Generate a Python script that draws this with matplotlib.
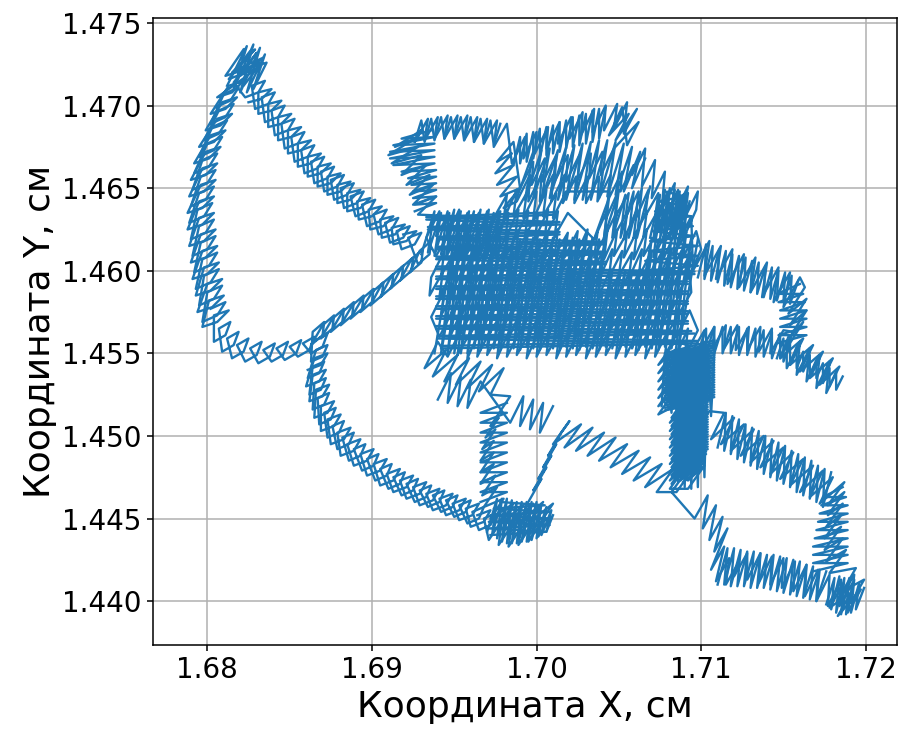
import matplotlib
matplotlib.use('Agg')
import matplotlib.pyplot as plt
from matplotlib.ticker import FormatStrFormatter, MultipleLocator

# trajectory, band by band (x, y in cm)
top_cluster = [(1.6816,1.4714),(1.6830,1.4732),(1.6820,1.4718),(1.6834,1.4729),(1.6818,1.4722),(1.6829,1.4734),
               (1.6815,1.4720),(1.6833,1.4726),(1.6822,1.4712),(1.6826,1.4733),(1.6813,1.4716),(1.6831,1.4723)]
left_side = [(1.6806,1.4705),(1.6815,1.4708),(1.6822,1.4715),(1.6813,1.4712),(1.6802,1.4695),(1.6811,1.4698),
             (1.6818,1.4705),(1.6809,1.4702),(1.6799,1.4685),(1.6808,1.4688),(1.6815,1.4695),(1.6806,1.4692),
             (1.6795,1.4675),(1.6804,1.4678),(1.6811,1.4685),(1.6802,1.4682),(1.6792,1.4665),(1.6801,1.4668),
             (1.6808,1.4675),(1.6799,1.4672),(1.6790,1.4655),(1.6799,1.4658),(1.6806,1.4665),(1.6797,1.4662),
             (1.6789,1.4645),(1.6798,1.4648),(1.6805,1.4655),(1.6796,1.4652),(1.6788,1.4635),(1.6797,1.4638),
             (1.6804,1.4645),(1.6795,1.4642),(1.6788,1.4625),(1.6797,1.4628),(1.6804,1.4635),(1.6795,1.4632),
             (1.6789,1.4615),(1.6798,1.4618),(1.6805,1.4625),(1.6796,1.4622),(1.6790,1.4605),(1.6799,1.4608),
             (1.6806,1.4615),(1.6797,1.4612),(1.6791,1.4595),(1.6800,1.4598),(1.6807,1.4605),(1.6798,1.4602),
             (1.6793,1.4585),(1.6802,1.4588),(1.6809,1.4595),(1.6800,1.4592),(1.6794,1.4575),(1.6803,1.4578),
             (1.6810,1.4585),(1.6801,1.4582),(1.6797,1.4566),(1.6806,1.4569),(1.6813,1.4576),(1.6804,1.4573),
             (1.6804,1.4557),(1.6811,1.4561),(1.6814,1.4569),(1.6807,1.4565),(1.6809,1.4551),(1.6816,1.4555),
             (1.6819,1.4563),(1.6812,1.4559),(1.6815,1.4547),(1.6822,1.4551),(1.6825,1.4559),(1.6818,1.4555),
             (1.6823,1.4545),(1.6830,1.4549),(1.6833,1.4557),(1.6826,1.4553),(1.6831,1.4544),(1.6838,1.4548),
             (1.6841,1.4556),(1.6834,1.4552),(1.6839,1.4545),(1.6846,1.4549),(1.6849,1.4557),(1.6842,1.4553),
             (1.6847,1.4546),(1.6854,1.4550),(1.6857,1.4558),(1.6850,1.4554),(1.6855,1.4548),(1.6862,1.4552),
             (1.6865,1.4560),(1.6858,1.4556),(1.6863,1.4550),(1.6870,1.4554),(1.6873,1.4562),(1.6866,1.4558)]
diagonal = [(1.6823,1.4705),(1.6831,1.4708),(1.6835,1.4715),(1.6827,1.4712),(1.6829,1.4698),(1.6837,1.4701),
            (1.6841,1.4708),(1.6833,1.4705),(1.6835,1.4690),(1.6843,1.4693),(1.6847,1.4700),(1.6839,1.4697),
            (1.6841,1.4682),(1.6849,1.4685),(1.6853,1.4692),(1.6845,1.4689),(1.6847,1.4674),(1.6855,1.4677),
            (1.6859,1.4684),(1.6851,1.4681),(1.6853,1.4666),(1.6861,1.4669),(1.6865,1.4676),(1.6857,1.4673),
            (1.6859,1.4659),(1.6867,1.4662),(1.6871,1.4669),(1.6863,1.4666),(1.6865,1.4653),(1.6873,1.4656),
            (1.6877,1.4663),(1.6869,1.4660),(1.6871,1.4648),(1.6879,1.4651),(1.6883,1.4658),(1.6875,1.4655),
            (1.6877,1.4643),(1.6885,1.4646),(1.6889,1.4653),(1.6881,1.4650),(1.6883,1.4638),(1.6891,1.4641),
            (1.6895,1.4648),(1.6887,1.4645),(1.6890,1.4633),(1.6898,1.4636),(1.6902,1.4643),(1.6894,1.4640),
            (1.6897,1.4627),(1.6905,1.4630),(1.6909,1.4637),(1.6901,1.4634),(1.6904,1.4622),(1.6912,1.4625),
            (1.6916,1.4632),(1.6908,1.4629),(1.6911,1.4617),(1.6919,1.4620),(1.6923,1.4627),(1.6915,1.4624),
            (1.6918,1.4613),(1.6926,1.4616),(1.6930,1.4623),(1.6922,1.4620)]
lower_band = [(1.6928,1.4604),(1.6935,1.4610),(1.6936,1.4618),(1.6929,1.4612),(1.6923,1.4599),(1.6930,1.4605),
              (1.6931,1.4613),(1.6924,1.4607),(1.6917,1.4594),(1.6924,1.4600),(1.6925,1.4608),(1.6918,1.4602),
              (1.6911,1.4589),(1.6918,1.4595),(1.6919,1.4603),(1.6912,1.4597),(1.6905,1.4584),(1.6912,1.4590),
              (1.6913,1.4598),(1.6906,1.4592),(1.6899,1.4579),(1.6906,1.4585),(1.6907,1.4593),(1.6900,1.4587),
              (1.6893,1.4575),(1.6900,1.4581),(1.6901,1.4589),(1.6894,1.4583),(1.6887,1.4571),(1.6894,1.4577),
              (1.6895,1.4585),(1.6888,1.4579),(1.6881,1.4567),(1.6888,1.4573),(1.6889,1.4581),(1.6882,1.4575),
              (1.6875,1.4563),(1.6882,1.4569),(1.6883,1.4577),(1.6876,1.4571),(1.6869,1.4559),(1.6876,1.4565),
              (1.6877,1.4573),(1.6870,1.4567),(1.6863,1.4555),(1.6870,1.4561),(1.6871,1.4569),(1.6864,1.4563)]
second_loop = [(1.6863,1.4545),(1.6870,1.4548),(1.6873,1.4555),(1.6866,1.4552),(1.6861,1.4535),(1.6868,1.4538),
               (1.6871,1.4545),(1.6864,1.4542),(1.6862,1.4525),(1.6869,1.4528),(1.6872,1.4535),(1.6865,1.4532),
               (1.6864,1.4516),(1.6871,1.4519),(1.6874,1.4526),(1.6867,1.4523),(1.6868,1.4507),(1.6875,1.4510),
               (1.6878,1.4517),(1.6871,1.4514),(1.6873,1.4499),(1.6880,1.4502),(1.6883,1.4509),(1.6876,1.4506),
               (1.6879,1.4492),(1.6886,1.4495),(1.6889,1.4502),(1.6882,1.4499),(1.6886,1.4485),(1.6893,1.4488),
               (1.6896,1.4495),(1.6889,1.4492),(1.6894,1.4479),(1.6901,1.4482),(1.6904,1.4489),(1.6897,1.4486),
               (1.6902,1.4473),(1.6909,1.4476),(1.6912,1.4483),(1.6905,1.4480),(1.6910,1.4468),(1.6917,1.4471),
               (1.6920,1.4478),(1.6913,1.4475),(1.6918,1.4464),(1.6925,1.4467),(1.6928,1.4474),(1.6921,1.4471),
               (1.6926,1.4460),(1.6933,1.4463),(1.6936,1.4470),(1.6929,1.4467),(1.6934,1.4457),(1.6941,1.4460),
               (1.6944,1.4467),(1.6937,1.4464),(1.6942,1.4454),(1.6949,1.4457),(1.6952,1.4464),(1.6945,1.4461),
               (1.6950,1.4451),(1.6957,1.4454),(1.6960,1.4461),(1.6953,1.4458),(1.6958,1.4447),(1.6965,1.4450),
               (1.6968,1.4457),(1.6961,1.4454),(1.6965,1.4443),(1.6972,1.4446),(1.6975,1.4453),(1.6968,1.4450)]
bottom_blob = [(1.6971,1.4437),(1.6979,1.4449),(1.6977,1.4434),(1.6985,1.4446),(1.6983,1.4433),(1.6991,1.4445),
               (1.6989,1.4434),(1.6997,1.4446),(1.6995,1.4436),(1.7003,1.4448),(1.7001,1.4439),(1.7009,1.4451),
               (1.7002,1.4447),(1.7010,1.4459),(1.6996,1.4448),(1.7004,1.4460),(1.6990,1.4447),(1.6998,1.4459),
               (1.6984,1.4446),(1.6992,1.4458),(1.6978,1.4447),(1.6986,1.4459),(1.6972,1.4450),(1.6980,1.4462)]
upright = [(1.6968,1.4457),(1.6976,1.4469),(1.6967,1.4464),(1.6975,1.4476),(1.6966,1.4471),(1.6974,1.4483),
           (1.6966,1.4478),(1.6974,1.4490),(1.6966,1.4485),(1.6974,1.4497),(1.6967,1.4492),(1.6975,1.4504),
           (1.6969,1.4499),(1.6977,1.4511),(1.6972,1.4506),(1.6980,1.4518),(1.6976,1.4512),(1.6984,1.4524)]
below_core = [(1.6972,1.4525),(1.6980,1.4541),(1.6965,1.4527),(1.6973,1.4543),(1.6958,1.4529),(1.6966,1.4545),
              (1.6951,1.4531),(1.6959,1.4547),(1.6944,1.4533),(1.6952,1.4549),(1.6937,1.4536),(1.6945,1.4552),
              (1.6932,1.4541),(1.6940,1.4557)]

# dense core, swept in rows from the bottom up
core_1 = [(1.6946,1.4548),(1.6954,1.4564),(1.6952,1.4549),(1.6960,1.4563),(1.6958,1.4547),(1.6966,1.4565),
          (1.6964,1.4548),(1.6972,1.4564),(1.6970,1.4549),(1.6978,1.4563),(1.6976,1.4547),(1.6984,1.4565),
          (1.6982,1.4548),(1.6990,1.4564),(1.6988,1.4549),(1.6996,1.4563),(1.6994,1.4547),(1.7002,1.4565),
          (1.7000,1.4548),(1.7008,1.4564),(1.7006,1.4549),(1.7014,1.4563),(1.7012,1.4547),(1.7020,1.4565),
          (1.7018,1.4548),(1.7026,1.4564),(1.7024,1.4549),(1.7032,1.4563),(1.7030,1.4547),(1.7038,1.4565),
          (1.7036,1.4548),(1.7044,1.4564),(1.7042,1.4549),(1.7050,1.4563),(1.7048,1.4547),(1.7056,1.4565),
          (1.7054,1.4548),(1.7062,1.4564),(1.7060,1.4549),(1.7068,1.4563),(1.7066,1.4547),(1.7074,1.4565),
          (1.7072,1.4548),(1.7080,1.4564),(1.7078,1.4549),(1.7086,1.4563),(1.7084,1.4547),(1.7092,1.4565),
          (1.7090,1.4548),(1.7098,1.4564)]
core_2 = [(1.7093,1.4576),(1.7085,1.4560),(1.7087,1.4575),(1.7079,1.4561),(1.7081,1.4577),(1.7073,1.4559),
          (1.7075,1.4576),(1.7067,1.4560),(1.7069,1.4575),(1.7061,1.4561),(1.7063,1.4577),(1.7055,1.4559),
          (1.7057,1.4576),(1.7049,1.4560),(1.7051,1.4575),(1.7043,1.4561),(1.7045,1.4577),(1.7037,1.4559),
          (1.7039,1.4576),(1.7031,1.4560),(1.7033,1.4575),(1.7025,1.4561),(1.7027,1.4577),(1.7019,1.4559),
          (1.7021,1.4576),(1.7013,1.4560),(1.7015,1.4575),(1.7007,1.4561),(1.7009,1.4577),(1.7001,1.4559),
          (1.7003,1.4576),(1.6995,1.4560),(1.6997,1.4575),(1.6989,1.4561),(1.6991,1.4577),(1.6983,1.4559),
          (1.6985,1.4576),(1.6977,1.4560),(1.6979,1.4575),(1.6971,1.4561),(1.6973,1.4577),(1.6965,1.4559),
          (1.6967,1.4576),(1.6959,1.4560),(1.6961,1.4575),(1.6953,1.4561),(1.6955,1.4577),(1.6947,1.4559),
          (1.6949,1.4576),(1.6941,1.4560)]
core_3 = [(1.6936,1.4572),(1.6944,1.4588),(1.6942,1.4573),(1.6950,1.4587),(1.6948,1.4571),(1.6956,1.4589),
          (1.6954,1.4572),(1.6962,1.4588),(1.6960,1.4573),(1.6968,1.4587),(1.6966,1.4571),(1.6974,1.4589),
          (1.6972,1.4572),(1.6980,1.4588),(1.6978,1.4573),(1.6986,1.4587),(1.6984,1.4571),(1.6992,1.4589),
          (1.6990,1.4572),(1.6998,1.4588),(1.6996,1.4573),(1.7004,1.4587),(1.7002,1.4571),(1.7010,1.4589),
          (1.7008,1.4572),(1.7016,1.4588),(1.7014,1.4573),(1.7022,1.4587),(1.7020,1.4571),(1.7028,1.4589),
          (1.7026,1.4572),(1.7034,1.4588),(1.7032,1.4573),(1.7040,1.4587),(1.7038,1.4571),(1.7046,1.4589),
          (1.7044,1.4572),(1.7052,1.4588),(1.7050,1.4573),(1.7058,1.4587),(1.7056,1.4571),(1.7064,1.4589),
          (1.7062,1.4572),(1.7070,1.4588),(1.7068,1.4573),(1.7076,1.4587),(1.7074,1.4571),(1.7082,1.4589),
          (1.7080,1.4572),(1.7088,1.4588),(1.7086,1.4573),(1.7094,1.4587)]
core_4 = [(1.7093,1.4600),(1.7085,1.4584),(1.7087,1.4599),(1.7079,1.4585),(1.7081,1.4601),(1.7073,1.4583),
          (1.7075,1.4600),(1.7067,1.4584),(1.7069,1.4599),(1.7061,1.4585),(1.7063,1.4601),(1.7055,1.4583),
          (1.7057,1.4600),(1.7049,1.4584),(1.7051,1.4599),(1.7043,1.4585),(1.7045,1.4601),(1.7037,1.4583),
          (1.7039,1.4600),(1.7031,1.4584),(1.7033,1.4599),(1.7025,1.4585),(1.7027,1.4601),(1.7019,1.4583),
          (1.7021,1.4600),(1.7013,1.4584),(1.7015,1.4599),(1.7007,1.4585),(1.7009,1.4601),(1.7001,1.4583),
          (1.7003,1.4600),(1.6995,1.4584),(1.6997,1.4599),(1.6989,1.4585),(1.6991,1.4601),(1.6983,1.4583),
          (1.6985,1.4600),(1.6977,1.4584),(1.6979,1.4599),(1.6971,1.4585),(1.6973,1.4601),(1.6965,1.4583),
          (1.6967,1.4600),(1.6959,1.4584),(1.6961,1.4599),(1.6953,1.4585),(1.6955,1.4601),(1.6947,1.4583),
          (1.6949,1.4600),(1.6941,1.4584),(1.6943,1.4599),(1.6935,1.4585)]
core_5 = [(1.6936,1.4596),(1.6944,1.4612),(1.6942,1.4597),(1.6950,1.4611),(1.6948,1.4595),(1.6956,1.4613),
          (1.6954,1.4596),(1.6962,1.4612),(1.6960,1.4597),(1.6968,1.4611),(1.6966,1.4595),(1.6974,1.4613),
          (1.6972,1.4596),(1.6980,1.4612),(1.6978,1.4597),(1.6986,1.4611),(1.6984,1.4595),(1.6992,1.4613),
          (1.6990,1.4596),(1.6998,1.4612),(1.6996,1.4597),(1.7004,1.4611),(1.7002,1.4595),(1.7010,1.4613),
          (1.7008,1.4596),(1.7016,1.4612),(1.7014,1.4597),(1.7022,1.4611),(1.7020,1.4595),(1.7028,1.4613),
          (1.7026,1.4596),(1.7034,1.4612),(1.7032,1.4597),(1.7040,1.4611),(1.7038,1.4595),(1.7046,1.4613),
          (1.7044,1.4596),(1.7052,1.4612),(1.7050,1.4597),(1.7058,1.4611),(1.7056,1.4595),(1.7064,1.4613),
          (1.7062,1.4596),(1.7070,1.4612),(1.7068,1.4597),(1.7076,1.4611),(1.7074,1.4595),(1.7082,1.4613),
          (1.7080,1.4596),(1.7088,1.4612),(1.7086,1.4597),(1.7094,1.4611),(1.7092,1.4595),(1.7100,1.4613)]
core_6 = [(1.7097,1.4624),(1.7089,1.4608),(1.7091,1.4623),(1.7083,1.4609),(1.7085,1.4625),(1.7077,1.4607),
          (1.7079,1.4624),(1.7071,1.4608),(1.7073,1.4623),(1.7065,1.4609),(1.7067,1.4625),(1.7059,1.4607),
          (1.7061,1.4624),(1.7053,1.4608),(1.7055,1.4623),(1.7047,1.4609),(1.7049,1.4625),(1.7041,1.4607),
          (1.7043,1.4624),(1.7035,1.4608),(1.7037,1.4623),(1.7029,1.4609),(1.7031,1.4625),(1.7023,1.4607),
          (1.7025,1.4624),(1.7017,1.4608),(1.7019,1.4623),(1.7011,1.4609),(1.7013,1.4625),(1.7005,1.4607),
          (1.7007,1.4624),(1.6999,1.4608),(1.7001,1.4623),(1.6993,1.4609),(1.6995,1.4625),(1.6987,1.4607),
          (1.6989,1.4624),(1.6981,1.4608),(1.6983,1.4623),(1.6975,1.4609),(1.6977,1.4625),(1.6969,1.4607),
          (1.6971,1.4624),(1.6963,1.4608),(1.6965,1.4623),(1.6957,1.4609),(1.6959,1.4625),(1.6951,1.4607),
          (1.6953,1.4624),(1.6945,1.4608),(1.6947,1.4623),(1.6939,1.4609)]
core_7 = [(1.6933,1.4620),(1.6941,1.4636),(1.6939,1.4621),(1.6947,1.4635),(1.6945,1.4619),(1.6953,1.4637),
          (1.6951,1.4620),(1.6959,1.4636),(1.6957,1.4621),(1.6965,1.4635),(1.6963,1.4619),(1.6971,1.4637),
          (1.6969,1.4620),(1.6977,1.4636),(1.6975,1.4621),(1.6983,1.4635),(1.6981,1.4619),(1.6989,1.4637),
          (1.6987,1.4620),(1.6995,1.4636),(1.6993,1.4621),(1.7001,1.4635),(1.6999,1.4619),(1.7007,1.4637),
          (1.7005,1.4620),(1.7013,1.4636),(1.7011,1.4621),(1.7019,1.4635),
          (1.7035,1.4619),(1.7043,1.4637),(1.7041,1.4620),(1.7049,1.4636),(1.7047,1.4621),(1.7055,1.4635),
          (1.7053,1.4619),(1.7061,1.4637),(1.7059,1.4620),(1.7067,1.4636),(1.7065,1.4621),(1.7073,1.4635),
          (1.7071,1.4619),(1.7079,1.4637),(1.7077,1.4620),(1.7085,1.4636),(1.7083,1.4621),(1.7091,1.4635),
          (1.7089,1.4619),(1.7097,1.4637)]
core_8 = [(1.7098,1.4648),(1.7090,1.4632),(1.7092,1.4647),(1.7084,1.4633),(1.7086,1.4649),(1.7078,1.4631),
          (1.7080,1.4648),(1.7072,1.4632),(1.7074,1.4647),(1.7066,1.4633),(1.7068,1.4649),(1.7060,1.4631),
          (1.7062,1.4648),(1.7054,1.4632),(1.7056,1.4647),(1.7048,1.4633),(1.7050,1.4649),(1.7042,1.4631),
          (1.7044,1.4648),
          (1.7018,1.4648),(1.7010,1.4632),(1.7012,1.4647),(1.7004,1.4633),(1.7006,1.4649),(1.6998,1.4631),
          (1.7000,1.4648),(1.6992,1.4632),(1.6994,1.4647),(1.6986,1.4633),(1.6988,1.4649),(1.6980,1.4631),
          (1.6982,1.4646),(1.6974,1.4632)]

# upper lobes of the core
ring_left = [(1.6928,1.4634),(1.6939,1.4645),(1.6925,1.4640),(1.6937,1.4652),(1.6923,1.4646),(1.6935,1.4658),
             (1.6921,1.4652),(1.6933,1.4664),(1.6918,1.4658),(1.6930,1.4670),(1.6912,1.4665),(1.6928,1.4675),
             (1.6910,1.4670),(1.6926,1.4680),(1.6914,1.4675),(1.6930,1.4685)]
ring_top = [(1.6926,1.4678),(1.6934,1.4692),(1.6932,1.4679),(1.6940,1.4693),(1.6938,1.4680),(1.6946,1.4694),
            (1.6944,1.4680),(1.6952,1.4694),(1.6950,1.4680),(1.6958,1.4694),(1.6956,1.4679),(1.6964,1.4693),
            (1.6962,1.4678),(1.6970,1.4692),(1.6968,1.4677),(1.6976,1.4691),(1.6974,1.4675),(1.6982,1.4689)]
top_band = [(1.6985,1.4665),(1.6993,1.4681),(1.6992,1.4668),(1.7000,1.4684),(1.6999,1.4671),(1.7007,1.4687),
            (1.7006,1.4674),(1.7014,1.4690),(1.7013,1.4677),(1.7021,1.4693),(1.7020,1.4680),(1.7028,1.4696),
            (1.7027,1.4682),(1.7035,1.4698),(1.7034,1.4684),(1.7042,1.4700)]
top_nub = [(1.7041,1.4685),(1.7049,1.4701),(1.7047,1.4686),(1.7055,1.4702),(1.7053,1.4683),(1.7061,1.4698),
           (1.7048,1.4679),(1.7056,1.4695),(1.7044,1.4682),(1.7052,1.4699),(1.7055,1.4676),(1.7062,1.4690)]
mesh_upper = [(1.7047,1.4674),(1.7039,1.4658),(1.7040,1.4672),(1.7032,1.4656),(1.7033,1.4671),(1.7025,1.4655),
              (1.7026,1.4670),(1.7018,1.4654),(1.7019,1.4670),(1.7011,1.4654),(1.7012,1.4670),(1.7004,1.4654),
              (1.7005,1.4668),(1.6997,1.4652),(1.6998,1.4666),(1.6990,1.4650)]
ring_right = [(1.6986,1.4678),(1.6976,1.4666),(1.6985,1.4671),(1.6975,1.4659),(1.6986,1.4664),(1.6976,1.4652),
              (1.6988,1.4657),(1.6978,1.4645),(1.6990,1.4650),(1.6980,1.4638)]
mesh_lower = [(1.6988,1.4642),(1.6996,1.4658),(1.6995,1.4642),(1.7003,1.4658),(1.7002,1.4642),(1.7010,1.4658),
              (1.7009,1.4642),(1.7017,1.4658),(1.7016,1.4641),(1.7024,1.4657),(1.7023,1.4641),(1.7031,1.4657),
              (1.7030,1.4641),(1.7038,1.4657),(1.7037,1.4642),(1.7045,1.4658),(1.7044,1.4644),(1.7052,1.4660),
              (1.7051,1.4648),(1.7059,1.4664)]
right_lobe = [(1.7058,1.4658),(1.7066,1.4674),(1.7064,1.4651),(1.7072,1.4667),(1.7070,1.4644),(1.7078,1.4660),
              (1.7076,1.4637),(1.7084,1.4653),(1.7081,1.4630),(1.7089,1.4646),(1.7085,1.4624),(1.7093,1.4640),
              (1.7079,1.4619),(1.7087,1.4635),(1.7073,1.4625),(1.7081,1.4641),(1.7078,1.4632),(1.7086,1.4648),
              (1.7084,1.4635),(1.7092,1.4651),(1.7086,1.4617),(1.7094,1.4633)]

# right ring and its tail
rring_top = [(1.7095,1.4600),(1.7105,1.4618),(1.7102,1.4597),(1.7112,1.4615),(1.7109,1.4595),(1.7119,1.4613),
             (1.7116,1.4592),(1.7126,1.4610),(1.7123,1.4590),(1.7133,1.4608),(1.7130,1.4587),(1.7140,1.4605),
             (1.7137,1.4584),(1.7147,1.4602),(1.7144,1.4581),(1.7154,1.4599),(1.7150,1.4578),(1.7160,1.4596)]
rring_side = [(1.7163,1.4590),(1.7153,1.4574),(1.7164,1.4583),(1.7154,1.4567),(1.7164,1.4576),(1.7154,1.4560),
              (1.7162,1.4569),(1.7152,1.4553)]
tail = [(1.7152,1.4541),(1.7160,1.4557),(1.7158,1.4537),(1.7166,1.4553),(1.7164,1.4533),(1.7172,1.4549),
        (1.7170,1.4529),(1.7178,1.4545),(1.7176,1.4526),(1.7184,1.4542),
        (1.7172,1.4531),(1.7180,1.4547),(1.7166,1.4535),(1.7174,1.4551),(1.7160,1.4539),(1.7168,1.4555),
        (1.7154,1.4543),(1.7162,1.4559),(1.7148,1.4547),(1.7156,1.4563)]
rring_bottom = [(1.7150,1.4564),(1.7142,1.4550),(1.7143,1.4565),(1.7135,1.4551),(1.7136,1.4566),(1.7128,1.4552),
                (1.7129,1.4566),(1.7121,1.4552),(1.7122,1.4567),(1.7114,1.4553),(1.7115,1.4567),(1.7107,1.4553),
                (1.7108,1.4566),(1.7100,1.4552),(1.7102,1.4564),(1.7094,1.4550)]

# vertical column under the core
column_1 = [(1.7102,1.4557),(1.7092,1.4543),(1.7102,1.4552),(1.7092,1.4538),(1.7102,1.4547),(1.7092,1.4533),
            (1.7102,1.4542),(1.7092,1.4528),(1.7102,1.4537),(1.7092,1.4523),(1.7102,1.4532),(1.7092,1.4518),
            (1.7102,1.4527),(1.7092,1.4513),(1.7102,1.4522),(1.7092,1.4508),(1.7102,1.4517),(1.7092,1.4503),
            (1.7102,1.4512),(1.7092,1.4498),(1.7102,1.4507),(1.7092,1.4493),(1.7102,1.4502),(1.7092,1.4488),
            (1.7102,1.4497),(1.7092,1.4483),(1.7102,1.4492),(1.7092,1.4478),(1.7102,1.4487),(1.7092,1.4473),
            (1.7102,1.4482),(1.7092,1.4468)]
column_2 = [(1.7081,1.4468),(1.7091,1.4482),(1.7081,1.4473),(1.7091,1.4487),(1.7081,1.4478),(1.7091,1.4492),
            (1.7081,1.4483),(1.7091,1.4497),(1.7081,1.4488),(1.7091,1.4502),(1.7081,1.4493),(1.7091,1.4507),
            (1.7081,1.4498),(1.7091,1.4512),(1.7081,1.4503),(1.7091,1.4517),(1.7081,1.4508),(1.7091,1.4522),
            (1.7074,1.4513),(1.7084,1.4527),(1.7074,1.4518),(1.7084,1.4532),(1.7074,1.4523),(1.7084,1.4537),
            (1.7074,1.4528),(1.7084,1.4542),(1.7074,1.4533),(1.7084,1.4547),(1.7074,1.4538),(1.7084,1.4552),
            (1.7074,1.4543),(1.7084,1.4557)]
column_3 = [(1.7092,1.4555),(1.7082,1.4541),(1.7092,1.4550),(1.7082,1.4536),(1.7092,1.4545),(1.7082,1.4531),
            (1.7092,1.4540),(1.7082,1.4526),(1.7092,1.4535),(1.7082,1.4521),(1.7092,1.4530),(1.7082,1.4516),
            (1.7092,1.4525),(1.7082,1.4511),(1.7092,1.4520),(1.7082,1.4506),(1.7092,1.4515),(1.7082,1.4501),
            (1.7092,1.4510),(1.7082,1.4496),(1.7092,1.4505),(1.7082,1.4491),(1.7092,1.4500),(1.7082,1.4486),
            (1.7092,1.4495),(1.7082,1.4481),(1.7092,1.4490),(1.7082,1.4476),(1.7092,1.4485),(1.7082,1.4471),
            (1.7092,1.4480),(1.7082,1.4466)]

# lower right loop
link_down = [(1.7096,1.4450),(1.7104,1.4464),(1.7101,1.4444),(1.7109,1.4458),(1.7105,1.4437),(1.7113,1.4451),
             (1.7108,1.4430),(1.7116,1.4444)]
lr_end = [(1.7106,1.4419),(1.7114,1.4433),(1.7109,1.4412),(1.7117,1.4426),(1.7115,1.4410),(1.7123,1.4424),
          (1.7120,1.4415),(1.7128,1.4429)]
lr_bottom = [(1.7128,1.4413),(1.7136,1.4429),(1.7135,1.4411),(1.7143,1.4427),(1.7142,1.4410),(1.7150,1.4426),
             (1.7149,1.4408),(1.7157,1.4424),(1.7156,1.4406),(1.7164,1.4422),(1.7163,1.4403),(1.7171,1.4419),
             (1.7170,1.4400),(1.7178,1.4416),(1.7177,1.4397),(1.7185,1.4413)]
far_blob = [(1.7184,1.4397),(1.7192,1.4411),(1.7189,1.4393),(1.7197,1.4407),(1.7183,1.4391),(1.7191,1.4405),
            (1.7178,1.4396),(1.7186,1.4410),(1.7185,1.4402),(1.7193,1.4416),(1.7191,1.4399),(1.7199,1.4413),
            (1.7186,1.4406),(1.7194,1.4420)]
lr_side = [(1.7178,1.4417),(1.7188,1.4431),(1.7176,1.4424),(1.7186,1.4438),(1.7175,1.4431),(1.7185,1.4445),
           (1.7175,1.4438),(1.7185,1.4452),(1.7176,1.4445),(1.7186,1.4459),(1.7177,1.4452),(1.7187,1.4466),
           (1.7177,1.4458),(1.7187,1.4472)]
back_up = [(1.7172,1.4459),(1.7180,1.4475),(1.7166,1.4463),(1.7174,1.4479),(1.7160,1.4466),(1.7168,1.4482),
           (1.7154,1.4470),(1.7162,1.4486),(1.7148,1.4474),(1.7156,1.4490),(1.7142,1.4477),(1.7150,1.4493),
           (1.7136,1.4481),(1.7144,1.4497),(1.7130,1.4484),(1.7138,1.4500),(1.7124,1.4488),(1.7132,1.4504),
           (1.7118,1.4491),(1.7126,1.4507),(1.7112,1.4495),(1.7120,1.4511),(1.7106,1.4498),(1.7114,1.4514)]
column_4 = [(1.7105,1.4515),(1.7095,1.4501),(1.7103,1.4508),(1.7093,1.4494),(1.7101,1.4501),(1.7091,1.4487),
            (1.7099,1.4494),(1.7089,1.4480),(1.7097,1.4487),(1.7087,1.4473),(1.7095,1.4480),(1.7085,1.4466)]
middle_band = [(1.7073,1.4466),(1.7083,1.4480),(1.7066,1.4469),(1.7076,1.4483),(1.7059,1.4473),(1.7069,1.4487),
               (1.7052,1.4477),(1.7062,1.4491),(1.7045,1.4481),(1.7055,1.4495),(1.7038,1.4485),(1.7048,1.4499),
               (1.7031,1.4488),(1.7041,1.4502),(1.7024,1.4491),(1.7034,1.4505),(1.7017,1.4493),(1.7027,1.4507),
               (1.7010,1.4495),(1.7020,1.4509)]
to_blob = [(1.7015,1.4502),(1.7007,1.4488),(1.7012,1.4495),(1.7004,1.4481),(1.7009,1.4488),(1.7001,1.4474),
           (1.7006,1.4481),(1.6998,1.4467),(1.7003,1.4474),(1.6995,1.4460)]

# second set of loops along the open bands
left_side_b = [(1.6805,1.4699),(1.6814,1.4703),(1.6819,1.4711),(1.6810,1.4707),(1.6802,1.4689),(1.6811,1.4693),
               (1.6816,1.4701),(1.6807,1.4697),(1.6798,1.4679),(1.6807,1.4683),(1.6812,1.4691),(1.6803,1.4687),
               (1.6795,1.4669),(1.6804,1.4673),(1.6809,1.4681),(1.6800,1.4677),(1.6792,1.4659),(1.6801,1.4663),
               (1.6806,1.4671),(1.6797,1.4667),(1.6791,1.4649),(1.6800,1.4653),(1.6805,1.4661),(1.6796,1.4657),
               (1.6790,1.4639),(1.6799,1.4643),(1.6804,1.4651),(1.6795,1.4647),(1.6789,1.4629),(1.6798,1.4633),
               (1.6803,1.4641),(1.6794,1.4637),(1.6790,1.4619),(1.6799,1.4623),(1.6804,1.4631),(1.6795,1.4627),
               (1.6791,1.4609),(1.6800,1.4613),(1.6805,1.4621),(1.6796,1.4617),(1.6792,1.4599),(1.6801,1.4603),
               (1.6806,1.4611),(1.6797,1.4607),(1.6793,1.4589),(1.6802,1.4593),(1.6807,1.4601),(1.6798,1.4597),
               (1.6795,1.4579),(1.6804,1.4583),(1.6809,1.4591),(1.6800,1.4587),(1.6797,1.4569),(1.6806,1.4573),
               (1.6811,1.4581),(1.6802,1.4577)]
diagonal_b = [(1.6825,1.4702),(1.6833,1.4704),(1.6839,1.4710),(1.6831,1.4708),(1.6831,1.4695),(1.6839,1.4697),
              (1.6845,1.4703),(1.6837,1.4701),(1.6837,1.4687),(1.6845,1.4689),(1.6851,1.4695),(1.6843,1.4693),
              (1.6843,1.4679),(1.6851,1.4681),(1.6857,1.4687),(1.6849,1.4685),(1.6849,1.4671),(1.6857,1.4673),
              (1.6863,1.4679),(1.6855,1.4677),(1.6855,1.4663),(1.6863,1.4665),(1.6869,1.4671),(1.6861,1.4669),
              (1.6861,1.4657),(1.6869,1.4659),(1.6875,1.4665),(1.6867,1.4663),(1.6867,1.4651),(1.6875,1.4653),
              (1.6881,1.4659),(1.6873,1.4657),(1.6873,1.4646),(1.6881,1.4648),(1.6887,1.4654),(1.6879,1.4652),
              (1.6879,1.4641),(1.6887,1.4643),(1.6893,1.4649),(1.6885,1.4647),(1.6885,1.4636),(1.6893,1.4638),
              (1.6899,1.4644),(1.6891,1.4642),(1.6892,1.4631),(1.6900,1.4633),(1.6906,1.4639),(1.6898,1.4637),
              (1.6899,1.4625),(1.6907,1.4627),(1.6913,1.4633),(1.6905,1.4631),(1.6906,1.4620),(1.6914,1.4622),
              (1.6920,1.4628),(1.6912,1.4626),(1.6913,1.4616),(1.6921,1.4618),(1.6927,1.4624),(1.6919,1.4622)]
second_loop_b = [(1.6861,1.4540),(1.6869,1.4543),(1.6873,1.4550),(1.6865,1.4547),(1.6860,1.4530),(1.6868,1.4533),
                 (1.6872,1.4540),(1.6864,1.4537),(1.6862,1.4521),(1.6870,1.4524),(1.6874,1.4531),(1.6866,1.4528),
                 (1.6865,1.4511),(1.6873,1.4514),(1.6877,1.4521),(1.6869,1.4518),(1.6869,1.4503),(1.6877,1.4506),
                 (1.6881,1.4513),(1.6873,1.4510),(1.6875,1.4495),(1.6883,1.4498),(1.6887,1.4505),(1.6879,1.4502),
                 (1.6881,1.4488),(1.6889,1.4491),(1.6893,1.4498),(1.6885,1.4495),(1.6889,1.4482),(1.6897,1.4485),
                 (1.6901,1.4492),(1.6893,1.4489),(1.6897,1.4476),(1.6905,1.4479),(1.6909,1.4486),(1.6901,1.4483),
                 (1.6905,1.4470),(1.6913,1.4473),(1.6917,1.4480),(1.6909,1.4477),(1.6913,1.4466),(1.6921,1.4469),
                 (1.6925,1.4476),(1.6917,1.4473),(1.6921,1.4462),(1.6929,1.4465),(1.6933,1.4472),(1.6925,1.4469),
                 (1.6929,1.4458),(1.6937,1.4461),(1.6941,1.4468),(1.6933,1.4465),(1.6937,1.4455),(1.6945,1.4458),
                 (1.6949,1.4465),(1.6941,1.4462),(1.6945,1.4452),(1.6953,1.4455),(1.6957,1.4462),(1.6949,1.4459),
                 (1.6953,1.4449),(1.6961,1.4452),(1.6965,1.4459),(1.6957,1.4456),(1.6960,1.4445),(1.6968,1.4448),
                 (1.6972,1.4455),(1.6964,1.4452)]
top_cluster_b = [(1.6812,1.4712),(1.6824,1.4736),(1.6816,1.4710),(1.6828,1.4737),(1.6820,1.4708),(1.6832,1.4735),
                 (1.6824,1.4708),(1.6835,1.4731),(1.6828,1.4710),(1.6836,1.4726),(1.6811,1.4718),(1.6822,1.4734)]

# extra passes where the scribble is densest
fill_core = [(1.6938,1.4550),(1.6950,1.4620),(1.6942,1.4550),(1.6954,1.4619),(1.6946,1.4550),(1.6958,1.4621),
             (1.6950,1.4550),(1.6962,1.4620),(1.6954,1.4550),(1.6966,1.4619),(1.6958,1.4550),(1.6970,1.4621),
             (1.6962,1.4553),(1.6974,1.4620),(1.6966,1.4552),(1.6978,1.4619),(1.6970,1.4554),(1.6982,1.4621),
             (1.6974,1.4553),(1.6986,1.4620),(1.6978,1.4552),(1.6990,1.4619),(1.6982,1.4554),(1.6994,1.4621),
             (1.6986,1.4553),(1.6998,1.4620),(1.6990,1.4552),(1.7002,1.4619),(1.6994,1.4554),(1.7006,1.4621),
             (1.6998,1.4553),(1.7010,1.4620),(1.7002,1.4552),(1.7014,1.4619),(1.7006,1.4554),(1.7018,1.4621),
             (1.7010,1.4553),(1.7022,1.4620),(1.7014,1.4552),(1.7026,1.4619),(1.7018,1.4554),(1.7030,1.4621),
             (1.7022,1.4553),(1.7034,1.4620),(1.7026,1.4552),(1.7038,1.4619),(1.7030,1.4554),(1.7042,1.4621),
             (1.7034,1.4553),(1.7046,1.4599),(1.7038,1.4552),(1.7050,1.4598),(1.7042,1.4554),(1.7054,1.4600),
             (1.7046,1.4553),(1.7058,1.4599),(1.7050,1.4552),(1.7062,1.4598),(1.7054,1.4554),(1.7066,1.4600),
             (1.7058,1.4553),(1.7070,1.4620),(1.7062,1.4552),(1.7074,1.4619),(1.7066,1.4554),(1.7078,1.4621),
             (1.7070,1.4553),(1.7082,1.4620),(1.7074,1.4552),(1.7086,1.4619),(1.7078,1.4554),(1.7090,1.4621),
             (1.7082,1.4553),(1.7094,1.4620),(1.7086,1.4552),(1.7098,1.4619)]
fill_core_h = [(1.6942,1.4553),(1.7098,1.4556),(1.6940,1.4559),(1.7096,1.4562),(1.6939,1.4565),(1.7092,1.4568),
               (1.6939,1.4571),(1.7092,1.4574),(1.6939,1.4577),(1.7092,1.4580),(1.6939,1.4583),(1.7092,1.4586),
               (1.6939,1.4589),(1.7092,1.4592),(1.6939,1.4595),(1.7096,1.4598),(1.6939,1.4601),(1.7042,1.4604),
               (1.6939,1.4607),(1.7042,1.4610),(1.6939,1.4613),(1.7042,1.4616),(1.6940,1.4619),(1.7014,1.4622),
               (1.6934,1.4625),(1.7014,1.4628),(1.6933,1.4631),(1.7012,1.4634)]
fill_core_h2 = [(1.6942,1.45545),(1.7098,1.45575),(1.6940,1.45605),(1.7094,1.45635),(1.6939,1.45665),(1.7092,1.45695),
                (1.6939,1.45725),(1.7092,1.45755),(1.6939,1.45785),(1.7092,1.45815),(1.6939,1.45845),(1.7092,1.45875),
                (1.6939,1.45905),(1.7092,1.45935),(1.6939,1.45965),(1.7096,1.45995),(1.6939,1.46025),(1.7042,1.46055),
                (1.6939,1.46085),(1.7042,1.46115),(1.6939,1.46145),(1.7042,1.46175),(1.6940,1.46205),(1.7014,1.46235),
                (1.6934,1.46265),(1.7014,1.46295),(1.6933,1.46325),(1.7012,1.46355)]
fill_upper_left = [(1.6930,1.4610),(1.6938,1.4636),(1.6934,1.4611),(1.6942,1.4635),(1.6938,1.4609),(1.6946,1.4636),
                   (1.6942,1.4610),(1.6950,1.4637),(1.6946,1.4611),(1.6954,1.4636),(1.6950,1.4609),(1.6958,1.4635),
                   (1.6954,1.4610),(1.6962,1.4636),(1.6958,1.4611),(1.6966,1.4637),(1.6962,1.4609),(1.6970,1.4636),
                   (1.6966,1.4610),(1.6974,1.4635),(1.6970,1.4611),(1.6978,1.4636),(1.6974,1.4609),(1.6982,1.4637)]
fill_lobe = [(1.7069,1.4620),(1.7075,1.4646),(1.7072,1.4618),(1.7078,1.4649),(1.7075,1.4619),(1.7081,1.4650),
             (1.7078,1.4618),(1.7084,1.4649),(1.7081,1.4619),(1.7087,1.4648),(1.7084,1.4618),(1.7090,1.4646),
             (1.7087,1.4619),(1.7093,1.4642)]
fill_lobe_h = [(1.7066,1.4600),(1.7098,1.4603),(1.7066,1.4606),(1.7098,1.4609),(1.7068,1.4612),(1.7098,1.4615),
               (1.7069,1.4618),(1.7096,1.4621),(1.7070,1.4624),(1.7095,1.4627),(1.7071,1.4630),(1.7094,1.4633),
               (1.7072,1.4636),(1.7093,1.4639),(1.7074,1.4642),(1.7090,1.4645),(1.7078,1.4648)]
fill_mesh = [(1.6988,1.4644),(1.6998,1.4672),(1.6993,1.4643),(1.7003,1.4673),(1.6998,1.4644),(1.7008,1.4674),
             (1.7003,1.4643),(1.7013,1.4673),(1.7008,1.4644),(1.7018,1.4675),(1.7013,1.4643),(1.7023,1.4676),
             (1.7018,1.4643),(1.7028,1.4677),(1.7023,1.4643),(1.7033,1.4678),(1.7028,1.4643),(1.7038,1.4679),
             (1.7033,1.4643),(1.7043,1.4679),(1.7038,1.4644),(1.7048,1.4678),(1.7043,1.4645),(1.7053,1.4677),
             (1.7048,1.4646),(1.7058,1.4675),(1.7053,1.4648),(1.7063,1.4672),(1.7058,1.4650),(1.7066,1.4668)]
fill_mesh_low = [(1.7036,1.4622),(1.7044,1.4644),(1.7041,1.4620),(1.7049,1.4645),(1.7046,1.4620),(1.7054,1.4646),
                 (1.7051,1.4620),(1.7059,1.4648),(1.7056,1.4620),(1.7064,1.4650),(1.7061,1.4620),(1.7069,1.4651)]
fill_left_wall = [(1.6926,1.4636),(1.6939,1.4641),(1.6926,1.4640),(1.6939,1.4645),(1.6925,1.4644),(1.6939,1.4649),
                  (1.6925,1.4648),(1.6939,1.4653),(1.6924,1.4652),(1.6939,1.4657),(1.6922,1.4656),(1.6939,1.4661),
                  (1.6918,1.4660),(1.6938,1.4665),(1.6913,1.4664),(1.6938,1.4669),(1.6911,1.4668),(1.6938,1.4673),
                  (1.6911,1.4672),(1.6938,1.4677),(1.6913,1.4676),(1.6938,1.4681),(1.6918,1.4680),(1.6936,1.4685)]
fill_ring_top = [(1.6926,1.4678),(1.6930,1.4691),(1.6932,1.4678),(1.6936,1.4692),(1.6938,1.4679),(1.6942,1.4693),
                 (1.6944,1.4680),(1.6948,1.4693),(1.6950,1.4680),(1.6954,1.4693),(1.6956,1.4679),(1.6960,1.4693),
                 (1.6962,1.4678),(1.6966,1.4692),(1.6968,1.4677),(1.6972,1.4691),(1.6974,1.4676),(1.6978,1.4689)]
fill_top_band = [(1.6986,1.4664),(1.6990,1.4681),(1.6990,1.4665),(1.6994,1.4683),(1.6994,1.4666),(1.6998,1.4684),
                 (1.6998,1.4668),(1.7002,1.4686),(1.7002,1.4669),(1.7006,1.4687),(1.7006,1.4670),(1.7010,1.4688),
                 (1.7010,1.4671),(1.7014,1.4690),(1.7014,1.4672),(1.7018,1.4691),(1.7018,1.4674),(1.7022,1.4693),
                 (1.7022,1.4675),(1.7026,1.4694),(1.7026,1.4676),(1.7030,1.4695),(1.7030,1.4677),(1.7034,1.4697),
                 (1.7034,1.4678),(1.7038,1.4698),(1.7038,1.4680),(1.7042,1.4699)]
fill_below = [(1.6940,1.4522),(1.6948,1.4538),(1.6946,1.4520),(1.6954,1.4536),(1.6952,1.4518),(1.6960,1.4534),
              (1.6958,1.4517),(1.6966,1.4533),(1.6984,1.4508),(1.6992,1.4524),(1.6990,1.4506),(1.6998,1.4522),
              (1.6996,1.4504),(1.7004,1.4520),(1.7002,1.4502),(1.7010,1.4518)]
fill_upright = [(1.6966,1.4460),(1.6982,1.4466),(1.6966,1.4466),(1.6982,1.4472),(1.6966,1.4472),(1.6982,1.4478),
                (1.6966,1.4478),(1.6982,1.4484),(1.6966,1.4484),(1.6982,1.4490),(1.6966,1.4490),(1.6982,1.4496),
                (1.6966,1.4496),(1.6982,1.4502),(1.6966,1.4502),(1.6982,1.4508),(1.6966,1.4508),(1.6982,1.4514),
                (1.6966,1.4514),(1.6982,1.4520)]
fill_blob = [(1.6970,1.4442),(1.6976,1.4462),(1.6973,1.4440),(1.6979,1.4462),(1.6976,1.4438),(1.6982,1.4462),
             (1.6979,1.4436),(1.6985,1.4461),(1.6982,1.4435),(1.6988,1.4460),(1.6985,1.4435),(1.6991,1.4460),
             (1.6988,1.4435),(1.6994,1.4460),(1.6991,1.4436),(1.6997,1.4460),(1.6994,1.4436),(1.7000,1.4460),
             (1.6997,1.4437),(1.7003,1.4459),(1.7000,1.4438),(1.7006,1.4457),(1.7003,1.4440),(1.7009,1.4455),
             (1.7006,1.4442),(1.7010,1.4452)]
fill_blob_h = [(1.6972,1.4440),(1.7006,1.4442),(1.6971,1.4444),(1.7008,1.4446),(1.6971,1.4448),(1.7009,1.4450),
               (1.6972,1.4452),(1.7008,1.4454),(1.6974,1.4456),(1.7005,1.4458),(1.6978,1.4460)]
fill_column = [(1.7108,1.4558),(1.7078,1.4550),(1.7108,1.4555),(1.7078,1.4547),(1.7108,1.4552),(1.7078,1.4544),
               (1.7108,1.4549),(1.7078,1.4541),(1.7108,1.4546),(1.7078,1.4538),(1.7108,1.4543),(1.7078,1.4535),
               (1.7108,1.4540),(1.7078,1.4532),(1.7108,1.4537),(1.7078,1.4529),(1.7108,1.4534),(1.7078,1.4526),
               (1.7108,1.4531),(1.7078,1.4523),(1.7108,1.4528),(1.7078,1.4520),(1.7108,1.4525),(1.7078,1.4517),
               (1.7106,1.4522),(1.7084,1.4514),(1.7104,1.4519),(1.7084,1.4511),(1.7104,1.4516),(1.7084,1.4508),
               (1.7104,1.4513),(1.7084,1.4505),(1.7104,1.4510),(1.7084,1.4502),(1.7104,1.4507),(1.7084,1.4499),
               (1.7104,1.4504),(1.7084,1.4496),(1.7104,1.4501),(1.7084,1.4493),(1.7104,1.4498),(1.7084,1.4490),
               (1.7104,1.4495),(1.7084,1.4487),(1.7104,1.4492),(1.7085,1.4484),(1.7103,1.4489),(1.7086,1.4481),
               (1.7102,1.4486),(1.7087,1.4478),(1.7101,1.4483),(1.7088,1.4475),(1.7100,1.4480),(1.7089,1.4472)]
fill_column_h2 = [(1.7108,1.45565),(1.7078,1.45485),(1.7108,1.45535),(1.7078,1.45455),(1.7108,1.45505),(1.7078,1.45425),
                  (1.7108,1.45475),(1.7078,1.45395),(1.7108,1.45445),(1.7078,1.45365),(1.7108,1.45415),(1.7078,1.45335),
                  (1.7108,1.45385),(1.7078,1.45305),(1.7108,1.45355),(1.7078,1.45275),(1.7108,1.45325),(1.7078,1.45245),
                  (1.7108,1.45295),(1.7078,1.45215),(1.7108,1.45265),(1.7078,1.45185),(1.7108,1.45235),(1.7078,1.45155),
                  (1.7104,1.45205),(1.7084,1.45125),(1.7104,1.45175),(1.7084,1.45095),(1.7104,1.45145),(1.7084,1.45065),
                  (1.7104,1.45115),(1.7084,1.45035),(1.7104,1.45085),(1.7084,1.45005),(1.7104,1.45055),(1.7084,1.44975),
                  (1.7104,1.45025),(1.7084,1.44945),(1.7104,1.44995),(1.7084,1.44915),(1.7104,1.44965),(1.7084,1.44885),
                  (1.7104,1.44935),(1.7084,1.44855),(1.7103,1.44905),(1.7085,1.44825),(1.7102,1.44875),(1.7086,1.44795),
                  (1.7101,1.44845),(1.7087,1.44765),(1.7100,1.44815),(1.7088,1.44735)]
fill_column_v = [(1.7076,1.4518),(1.7078,1.4550),(1.7082,1.4514),(1.7084,1.4552),(1.7086,1.4472),(1.7088,1.4550),
                 (1.7090,1.4469),(1.7092,1.4552),(1.7094,1.4468),(1.7096,1.4552),(1.7098,1.4469),(1.7100,1.4550),
                 (1.7102,1.4475),(1.7104,1.4552),(1.7106,1.4512),(1.7108,1.4550)]
fill_rring_top = [(1.7098,1.4596),(1.7103,1.4616),(1.7102,1.4595),(1.7107,1.4615),(1.7106,1.4594),(1.7111,1.4613),
                  (1.7110,1.4593),(1.7115,1.4612),(1.7114,1.4591),(1.7119,1.4610),(1.7118,1.4590),(1.7123,1.4609),
                  (1.7122,1.4589),(1.7127,1.4608),(1.7126,1.4588),(1.7131,1.4606),(1.7130,1.4587),(1.7135,1.4605),
                  (1.7134,1.4586),(1.7139,1.4603),(1.7138,1.4584),(1.7143,1.4602),(1.7142,1.4583),(1.7147,1.4600),
                  (1.7146,1.4582),(1.7151,1.4599),(1.7150,1.4581),(1.7155,1.4597),(1.7154,1.4580),(1.7159,1.4594)]
fill_rring_side = [(1.7146,1.4556),(1.7164,1.4561),(1.7147,1.4561),(1.7164,1.4566),(1.7148,1.4566),(1.7164,1.4571),
                   (1.7148,1.4571),(1.7164,1.4576),(1.7148,1.4576),(1.7163,1.4581),(1.7147,1.4581),(1.7162,1.4586),
                   (1.7146,1.4586),(1.7160,1.4592)]
fill_rring_bottom = [(1.7098,1.4550),(1.7103,1.4565),(1.7103,1.4550),(1.7108,1.4566),(1.7108,1.4550),(1.7113,1.4566),
                     (1.7113,1.4550),(1.7118,1.4566),(1.7118,1.4550),(1.7123,1.4566),(1.7123,1.4549),(1.7128,1.4565),
                     (1.7128,1.4549),(1.7133,1.4565),(1.7133,1.4548),(1.7138,1.4564),(1.7138,1.4548),(1.7143,1.4563),
                     (1.7143,1.4547),(1.7148,1.4562),(1.7148,1.4547),(1.7153,1.4560)]
fill_tail = [(1.7146,1.4547),(1.7150,1.4559),(1.7150,1.4545),(1.7154,1.4556),(1.7154,1.4543),(1.7158,1.4554),
             (1.7158,1.4541),(1.7162,1.4551),(1.7162,1.4539),(1.7166,1.4549),(1.7166,1.4537),(1.7170,1.4546),
             (1.7170,1.4535),(1.7174,1.4544),(1.7174,1.4532),(1.7178,1.4541),(1.7178,1.4530),(1.7182,1.4539),
             (1.7182,1.4528),(1.7186,1.4536)]
fill_back_up = [(1.7110,1.4493),(1.7115,1.4514),(1.7114,1.4491),(1.7119,1.4512),(1.7118,1.4489),(1.7123,1.4510),
                (1.7122,1.4486),(1.7127,1.4507),(1.7126,1.4484),(1.7131,1.4505),(1.7130,1.4482),(1.7135,1.4503),
                (1.7134,1.4480),(1.7139,1.4500),(1.7138,1.4477),(1.7143,1.4498),(1.7142,1.4475),(1.7147,1.4496),
                (1.7146,1.4473),(1.7151,1.4494),(1.7150,1.4471),(1.7155,1.4491),(1.7154,1.4469),(1.7159,1.4489),
                (1.7158,1.4466),(1.7163,1.4487),(1.7162,1.4464),(1.7167,1.4485),(1.7166,1.4462),(1.7171,1.4482),
                (1.7170,1.4460),(1.7175,1.4480),(1.7174,1.4457),(1.7179,1.4478)]
fill_lr_bottom = [(1.7110,1.4410),(1.7116,1.4432),(1.7114,1.4410),(1.7120,1.4432),(1.7118,1.4409),(1.7124,1.4431),
                  (1.7122,1.4409),(1.7128,1.4430),(1.7126,1.4409),(1.7132,1.4430),(1.7130,1.4408),(1.7136,1.4429),
                  (1.7134,1.4408),(1.7140,1.4428),(1.7138,1.4408),(1.7144,1.4428),(1.7142,1.4407),(1.7148,1.4427),
                  (1.7146,1.4406),(1.7152,1.4426),(1.7150,1.4405),(1.7156,1.4425),(1.7154,1.4404),(1.7160,1.4424),
                  (1.7158,1.4403),(1.7164,1.4422),(1.7162,1.4402),(1.7168,1.4421),(1.7166,1.4401),(1.7172,1.4419),
                  (1.7170,1.4400),(1.7176,1.4418)]
fill_lr_side = [(1.7168,1.4418),(1.7189,1.4423),(1.7168,1.4423),(1.7189,1.4428),(1.7168,1.4428),(1.7189,1.4433),
                (1.7168,1.4433),(1.7189,1.4438),(1.7169,1.4438),(1.7189,1.4443),(1.7170,1.4443),(1.7189,1.4448),
                (1.7171,1.4448),(1.7189,1.4453),(1.7172,1.4453),(1.7189,1.4458),(1.7173,1.4458),(1.7188,1.4463),
                (1.7174,1.4463),(1.7186,1.4469)]
fill_far = [(1.7176,1.4398),(1.7181,1.4414),(1.7179,1.4395),(1.7184,1.4415),(1.7182,1.4393),(1.7187,1.4414),
            (1.7185,1.4392),(1.7190,1.4414),(1.7188,1.4392),(1.7193,1.4413),(1.7191,1.4393),(1.7196,1.4411),
            (1.7194,1.4395),(1.7199,1.4408)]

path = ((top_cluster + left_side)[::-1] + diagonal + lower_band + second_loop + bottom_blob + upright
        + below_core + core_1 + core_2 + core_3 + core_4 + core_5 + core_6 + core_7 + core_8
        + ring_left + ring_top + top_band + top_nub + mesh_upper + ring_right + mesh_lower + right_lobe
        + rring_top + rring_side + tail + rring_bottom + column_1 + column_2 + column_3
        + link_down + lr_end + lr_bottom + far_blob + lr_side + back_up + column_4 + middle_band + to_blob)
extra = [left_side_b, diagonal_b, second_loop_b, top_cluster_b,
         fill_core, fill_core_h, fill_core_h2, fill_upper_left, fill_lobe, fill_lobe_h, fill_mesh, fill_mesh_low,
         fill_left_wall, fill_ring_top, fill_top_band, fill_below, fill_upright, fill_blob, fill_blob_h,
         fill_column, fill_column_h2, fill_column_v, fill_rring_top, fill_rring_side, fill_rring_bottom,
         fill_tail, fill_back_up, fill_lr_bottom, fill_lr_side, fill_far]

fig = plt.figure(figsize=(9, 7.31), dpi=100)
ax = fig.add_axes([0.17, 0.1176, 0.8267, 0.8577])
ax.plot([p[0] for p in path], [p[1] for p in path], color='#1f77b4', lw=1.7)
for piece in extra:
    ax.plot([p[0] for p in piece], [p[1] for p in piece], color='#1f77b4', lw=1.7)

ax.set_xlim(1.6767, 1.7219)
ax.set_ylim(1.43734, 1.4753)
ax.xaxis.set_major_locator(MultipleLocator(0.01))
ax.yaxis.set_major_locator(MultipleLocator(0.005))
ax.xaxis.set_major_formatter(FormatStrFormatter('%.2f'))
ax.yaxis.set_major_formatter(FormatStrFormatter('%.3f'))
ax.tick_params(labelsize=20, length=4.6, width=1.1)
ax.grid(True, color='#b0b0b0', lw=1.1)
for s in ax.spines.values():
    s.set_linewidth(1.1)
ax.set_xlabel('Координата X, см', fontsize=26)
ax.set_ylabel('Координата Y, см', fontsize=26)

fig.savefig('out.png', dpi=100)
